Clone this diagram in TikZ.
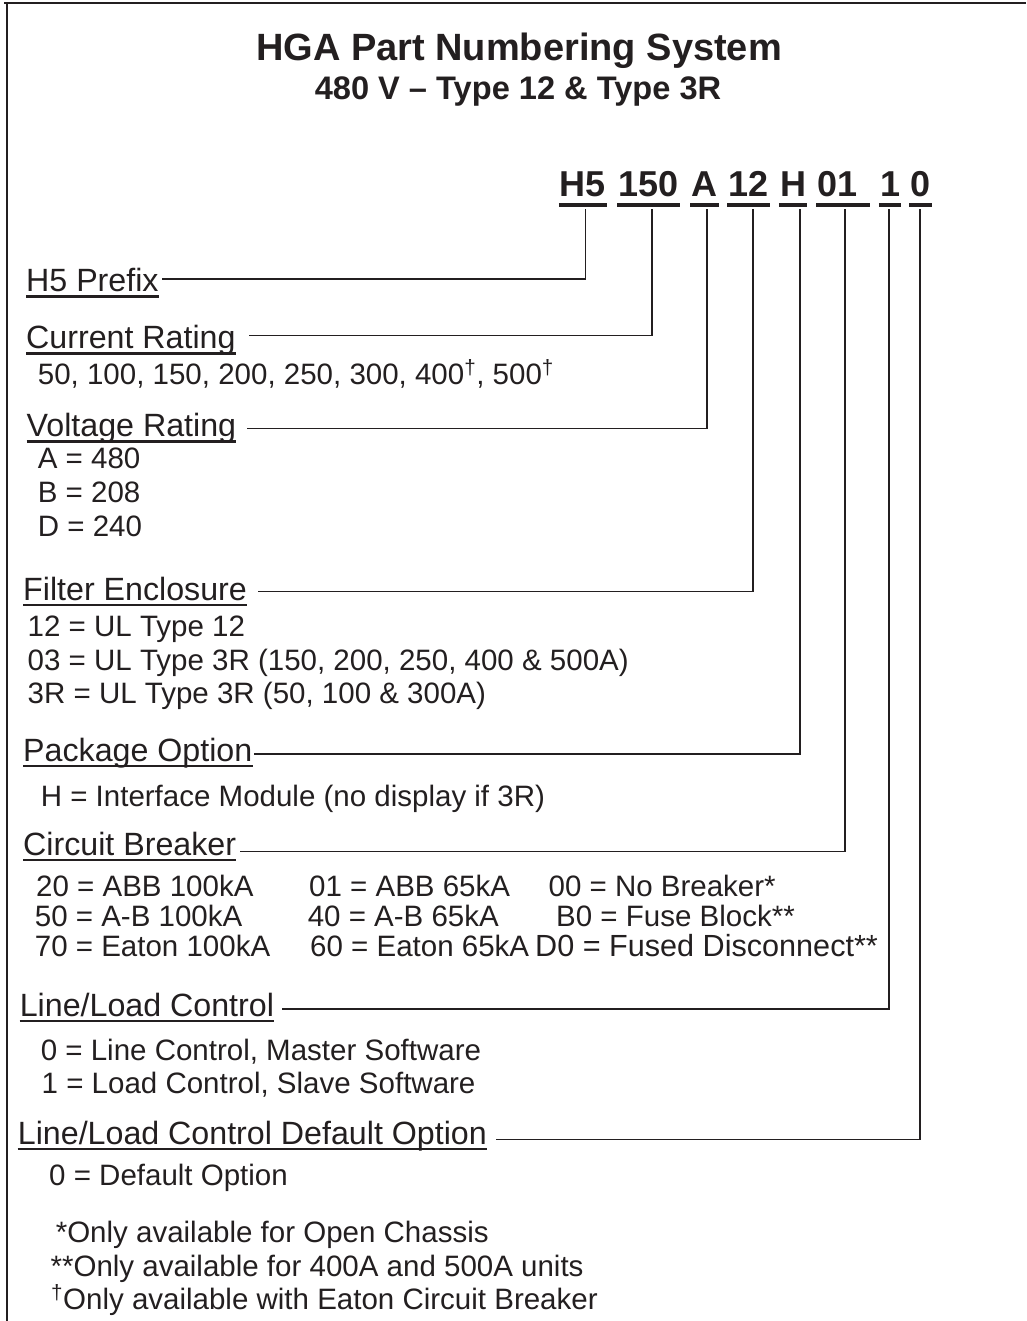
\documentclass[tikz,border=0pt]{standalone}
\usepackage{fontspec}
\setmainfont{Liberation Sans}
\usetikzlibrary{positioning}
\definecolor{ink}{RGB}{35,31,32}
\newcommand\dagsup{\textsuperscript{†}}

\begin{document}
\begin{tikzpicture}[x=1pt,y=-1pt,ink,
  title/.style={font=\fontsize{38}{44}\selectfont\bfseries,anchor=base,inner sep=0},
  subtitle/.style={font=\fontsize{32.6}{36}\selectfont\bfseries,anchor=base,inner sep=0},
  code/.style={font=\fontsize{36}{40}\selectfont\bfseries,anchor=base,inner xsep=1pt,inner ysep=0,text depth=0pt},
  hdr/.style={font=\fontsize{32.2}{38}\selectfont,anchor=base west,inner sep=0},
  opt/.style={font=\fontsize{29.5}{34}\selectfont,anchor=base west,inner sep=0},
  conn/.style={line width=1.5pt},
  hdrline/.style={line width=2.6pt},
  codeline/.style={line width=4pt}]
\useasboundingbox (0,0) rectangle (1026,1321);

  % frame
  \draw[line width=1.6pt] (4,3) -- (1026,3);
  \draw[line width=1.6pt] (7,3) -- (7,1321);

  \node[title] (ttl) at (519,61) {HGA Part Numbering System};
  \node[subtitle] (subttl) at (518,100) {480 V – Type 12 \& Type 3R};

  % part number
  \node[code] (cH5) at (583,197) {H5};
  \node[code] (cAmp) at (648.5,197) {150};
  \node[code] (cVolt) at (704.5,197) {A};
  \node[code] (cEncl) at (748.5,197) {12};
  \node[code] (cPkg) at (793,197) {H};
  \node[code] (cBrk) at (843,197) {01\kern.3em};
  \node[code] (cCtl) at (890,197) {1};
  \node[code] (cDef) at (920.5,197) {0};
  \foreach \n in {cH5,cAmp,cVolt,cEncl,cPkg,cBrk,cCtl,cDef}
    \draw[codeline] ([yshift=-8.3pt]\n.south west) -- ([yshift=-8.3pt]\n.south east);

  % headings
  \node[hdr] (lh5) at (26,291.7) {H5 Prefix};
  \node[hdr] (lcur) at (26,348.3) {Current Rating};
  \node[hdr] (lvolt) at (26.5,436.5) {Voltage Rating};
  \node[hdr] (lfilt) at (23,600) {Filter Enclosure};
  \node[hdr] (lpkg) at (23,761) {Package Option};
  \node[hdr] (lcb) at (23,855) {Circuit Breaker};
  \node[hdr] (lll) at (19.6,1016) {Line/Load Control};
  \node[hdr] (ldef) at (17.7,1144) {Line/Load Control Default Option};
  \foreach \n in {lh5,lcur,lvolt,lfilt,lpkg,lcb,lll,ldef}
    \draw[hdrline] ([yshift=-5pt]\n.base west) -- ([yshift=-5pt]\n.base east);

  % options
  \node[opt] (oamp) at (37.7,384) {50, 100, 150, 200, 250, 300, 400\dagsup, 500\dagsup};
  \node[opt] (ova) at (37.7,468.3) {A = 480};
  \node[opt] (ovb) at (37.7,502.3) {B = 208};
  \node[opt] (ovd) at (37.7,536) {D = 240};
  \node[opt] (oe12) at (27.5,636) {12 = UL Type 12};
  \node[opt] (oe03) at (27.5,670) {03 = UL Type 3R (150, 200, 250, 400 \& 500A)};
  \node[opt] (oe3r) at (27.5,703.3) {3R = UL Type 3R (50, 100 \& 300A)};
  \node[opt] (opkg) at (40.6,806.7) {H = Interface Module (no display if 3R)};
  \node[opt] (ob20) at (36,896.7) {20 = ABB 100kA};
  \node[opt] (ob01) at (309,896.7) {01 = ABB 65kA};
  \node[opt] (ob00) at (548.4,896.7) {00 = No Breaker*};
  \node[opt] (ob50) at (34.7,926.7) {50 = A-B 100kA};
  \node[opt] (ob40) at (307.6,926.7) {40 = A-B 65kA};
  \node[opt] (obB0) at (556,926.7) {B0 = Fuse Block**};
  \node[opt] (ob70) at (34.7,956.7) {70 = Eaton 100kA};
  \node[opt] (ob60) at (310,956.7) {60 = Eaton 65kA};
  \node[opt,font=\fontsize{30.6}{34}\selectfont] (obD0) at (535,956.7) {D0 = Fused Disconnect**};
  \node[opt] (oc0) at (40.6,1060) {0 = Line Control, Master Software};
  \node[opt] (oc1) at (41.5,1093.3) {1 = Load Control, Slave Software};
  \node[opt] (od0) at (49,1185) {0 = Default Option};

  % footnotes
  \node[opt] (fn1) at (55.6,1242) {*Only available for Open Chassis};
  \node[opt] (fn2) at (50.4,1276.7) {**Only available for 400A and 500A units};
  \node[opt] (fn3) at (51,1309) {\dagsup Only available with Eaton Circuit Breaker};

  % leaders
  \draw[conn] ([xshift=2.7pt,yshift=-12pt]cH5.south) |- ([xshift=3.3pt,yshift=12.7pt]lh5.base east);
  \draw[conn] ([xshift=3.5pt,yshift=-12pt]cAmp.south) |- ([xshift=13.3pt,yshift=12.6pt]lcur.base east);
  \draw[conn] ([xshift=2.5pt,yshift=-12pt]cVolt.south) |- ([xshift=10.6pt,yshift=7.8pt]lvolt.base east);
  \draw[conn] ([xshift=4.5pt,yshift=-12pt]cEncl.south) |- ([xshift=11pt,yshift=8.3pt]lfilt.base east);
  \draw[conn] ([xshift=7pt,yshift=-12pt]cPkg.south) |- ([xshift=1pt,yshift=7pt]lpkg.base east);
  \draw[conn] ([xshift=2pt,yshift=-12pt]cBrk.south) |- ([xshift=4pt,yshift=3.3pt]lcb.base east);
  \draw[conn] ([xshift=-1pt,yshift=-12pt]cCtl.south) |- ([xshift=7.4pt,yshift=7pt]lll.base east);
  \draw[conn] ([xshift=-0.5pt,yshift=-12pt]cDef.south) |- ([xshift=9pt,yshift=4.7pt]ldef.base east);
\end{tikzpicture}
\end{document}
